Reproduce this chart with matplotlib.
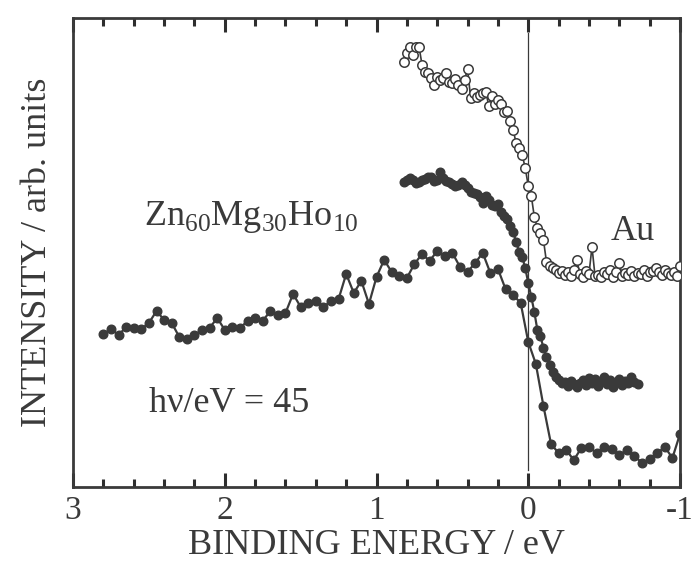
import matplotlib
matplotlib.use("Agg")
import matplotlib.pyplot as plt
from matplotlib.ticker import MultipleLocator

ink = '#3a3a3a'
plt.rcParams['font.family'] = ['Liberation Serif', 'DejaVu Serif']
plt.rcParams['mathtext.fontset'] = 'custom'
plt.rcParams['mathtext.rm'] = 'Liberation Serif'

# ---- data ----
# Zn60Mg30Ho10 (lower curve), binding energy / eV
alloy_E = [2.80, 2.75, 2.70, 2.65, 2.60, 2.55, 2.50, 2.45, 2.40, 2.35, 2.30, 2.25, 2.20, 2.15,
           2.10, 2.05, 2.00, 1.95, 1.90, 1.85, 1.80, 1.75, 1.70, 1.65, 1.60, 1.55, 1.50, 1.45,
           1.40, 1.35, 1.30, 1.25, 1.20, 1.15, 1.10, 1.05, 1.00, 0.95, 0.90, 0.85, 0.80, 0.75,
           0.70, 0.65, 0.60, 0.55, 0.50, 0.45, 0.40, 0.35, 0.30, 0.25, 0.20, 0.15, 0.10, 0.05,
           0.00, -0.05, -0.10, -0.15, -0.20, -0.25, -0.30, -0.35, -0.40, -0.45, -0.50, -0.55,
           -0.60, -0.65, -0.70, -0.75, -0.80, -0.85, -0.90, -0.95, -1.00]
alloy_I = [153, 158, 152, 160, 159, 158, 164, 176, 167, 164, 150, 148, 152, 157,
           159, 169, 157, 160, 159, 166, 169, 166, 176, 172, 174, 193, 180, 184,
           186, 180, 186, 188, 213, 194, 206, 183, 210, 227, 215, 211, 209, 223,
           233, 226, 236, 231, 234, 220, 215, 224, 234, 214, 218, 198, 192, 184,
           145, 123, 81, 43, 34, 37, 27, 39, 40, 34, 40, 38,
           32, 37, 31, 24, 28, 34, 40, 29, 53]

# middle curve (filled, dense)
mid_E = [0.82, 0.80, 0.78, 0.76, 0.74, 0.72, 0.70, 0.68, 0.66, 0.64, 0.62, 0.60, 0.58, 0.56,
         0.54, 0.52, 0.50, 0.48, 0.46, 0.44, 0.42, 0.40, 0.38, 0.36, 0.34, 0.32, 0.30, 0.28,
         0.26, 0.24, 0.22, 0.20, 0.18, 0.16, 0.14, 0.12, 0.10, 0.08, 0.06, 0.04, 0.02, 0.00,
         -0.02, -0.04, -0.06, -0.08, -0.10, -0.12, -0.14, -0.16, -0.18, -0.20, -0.22, -0.24,
         -0.26, -0.28, -0.30, -0.32, -0.34, -0.36, -0.38, -0.40, -0.42, -0.44, -0.46, -0.48,
         -0.50, -0.52, -0.54, -0.56, -0.58, -0.60, -0.62, -0.64, -0.66, -0.68, -0.70, -0.72]
mid_I = [305, 307, 309, 307, 304, 305, 307, 308, 310, 310, 306, 307, 315, 309,
         306, 305, 303, 301, 302, 305, 302, 299, 295, 294, 293, 290, 284, 291,
         287, 282, 281, 283, 275, 271, 268, 261, 255, 245, 235, 230, 219, 204,
         190, 175, 157, 151, 139, 130, 122, 115, 110, 107, 104, 105,
         101, 106, 103, 100, 104, 107, 102, 109, 104, 108, 101, 106,
         110, 103, 107, 100, 105, 108, 102, 106, 104, 110, 105, 103]

# Au (open circles)
au_E = [0.82, 0.80, 0.78, 0.76, 0.74, 0.72, 0.70, 0.68, 0.66, 0.64, 0.62, 0.60, 0.58, 0.56,
        0.54, 0.52, 0.50, 0.48, 0.46, 0.44, 0.42, 0.40, 0.38, 0.36, 0.34, 0.32, 0.30, 0.28,
        0.26, 0.24, 0.22, 0.20, 0.18, 0.16, 0.14, 0.12, 0.10, 0.08, 0.06, 0.04, 0.02, 0.00,
        -0.02, -0.04, -0.06, -0.08, -0.10, -0.12, -0.14, -0.16, -0.18, -0.20, -0.22, -0.24,
        -0.26, -0.28, -0.30, -0.32, -0.34, -0.36, -0.38, -0.40, -0.42, -0.44, -0.46, -0.48,
        -0.50, -0.52, -0.54, -0.56, -0.58, -0.60, -0.62, -0.64, -0.66, -0.68, -0.70, -0.72,
        -0.74, -0.76, -0.78, -0.80, -0.82, -0.84, -0.86, -0.88, -0.90, -0.92, -0.94, -0.96,
        -0.98, -1.00]
au_I = [425, 434, 440, 432, 440, 440, 422, 415, 414, 409, 402, 410, 407, 409,
        414, 405, 404, 408, 402, 398, 407, 418, 389, 394, 390, 392, 394, 395,
        381, 391, 383, 387, 383, 375, 376, 366, 357, 344, 339, 332, 319, 301,
        291, 270, 259, 254, 247, 225, 221, 219, 217, 214, 216, 212,
        215, 211, 217, 227, 213, 210, 216, 213, 240, 211, 212, 210,
        215, 213, 217, 210, 215, 224, 211, 214, 212, 216, 211, 214,
        213, 217, 211, 215, 216, 219, 215, 212, 217, 214, 212, 215,
        211, 221]

xticks_major = [3, 2, 1, 0, -1]
xtick_labels = ['3', '2', '1', '0', '-1']

# ---- figure ----
fig = plt.figure(figsize=(6.96, 5.75), dpi=100)
ax = fig.add_axes([0.105, 0.153, 0.872, 0.816])

ax.plot(alloy_E, alloy_I, '-o', color=ink, lw=1.6, ms=6.2, mfc=ink, mec=ink, zorder=3)
ax.plot(mid_E, mid_I, '-o', color=ink, lw=1.6, ms=6.2, mfc=ink, mec=ink, zorder=3)
ax.plot(au_E, au_I, '-o', color=ink, lw=1.2, ms=6.8, mfc='white', mec=ink, mew=1.1, zorder=4)

ax.axvline(0, ymin=0.036, ymax=0.968, color=ink, lw=0.9, zorder=2)

ax.set_xlim(3, -1)
ax.set_ylim(0, 469)
ax.set_xticks(xticks_major)
ax.set_xticklabels(xtick_labels)
ax.xaxis.set_minor_locator(MultipleLocator(0.2))
ax.set_yticks([])
for s in ax.spines.values():
    s.set_linewidth(2.0)
    s.set_color(ink)

ax.tick_params(axis='x', which='both', direction='in', top=True, bottom=True,
               width=2.2, color='#2e2e2e', labelsize=24, labelcolor=ink, pad=6)
ax.tick_params(axis='x', which='major', length=10)
ax.tick_params(axis='x', which='minor', length=6)
for t in ax.xaxis.get_major_ticks():
    for ln in (t.tick1line, t.tick2line):
        ln.set_visible(True)
        ln.set_markersize(10)
        ln.set_markeredgewidth(2.2)
        ln.set_color('#2e2e2e')
for t in ax.xaxis.get_minor_ticks():
    for ln in (t.tick1line, t.tick2line):
        ln.set_visible(True)
        ln.set_markersize(6)
        ln.set_markeredgewidth(2.2)
        ln.set_color('#2e2e2e')

ax.set_xlabel('BINDING ENERGY / eV', fontsize=26, color=ink, labelpad=2)
ax.set_ylabel('INTENSITY / arb. units', fontsize=26, color=ink, labelpad=14)

ax.text(2.535, 262, r'Zn$_{\mathregular{60}}$Mg$_{\mathregular{30}}$Ho$_{\mathregular{10}}$',
        fontsize=26, color=ink, ha='left', va='baseline')
ax.text(-0.54, 247, 'Au', fontsize=26, color=ink, ha='left', va='baseline')
ax.text(2.50, 75, 'h\u03bd/eV = 45', fontsize=26, color=ink, ha='left', va='baseline')

fig.savefig('out.png', dpi=100)
